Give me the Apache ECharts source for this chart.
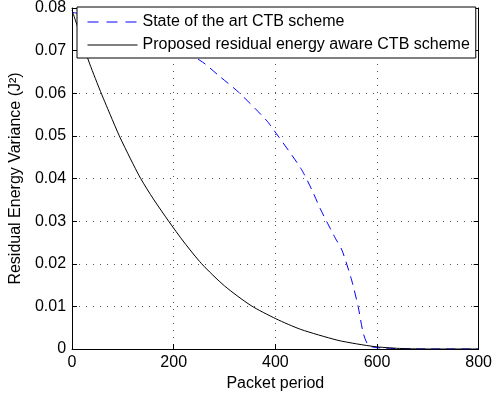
<!DOCTYPE html>
<html>
<head>
<meta charset="utf-8">
<script src="https://cdn.jsdelivr.net/npm/echarts@6/dist/echarts.min.js"></script>
<style>
html, body { margin: 0; padding: 0; background: #fff; }
#chart { width: 495px; height: 398px; }
</style>
</head>
<body>
<div id="chart"></div>
<script>
// 曲线数据
var stateX = [0, 60, 120, 180, 252, 290, 328, 382, 404, 450, 472, 488, 501, 518, 531, 550, 563, 573, 583, 600, 700, 800];
var stateY = [0.079, 0.0775, 0.075, 0.0718, 0.0677, 0.064, 0.0602, 0.0537, 0.0502, 0.0424, 0.0373, 0.033, 0.0299, 0.026, 0.0232, 0.0162, 0.0099, 0.0037, 0.0009, 0.0003, 0, 0];

var propX = [0, 16, 32, 54, 75, 93, 115, 135, 160, 190, 220, 255, 300, 352, 401, 450, 521, 560, 600, 650, 700, 800];
var propY = [0.0795, 0.0737, 0.0678, 0.061, 0.055, 0.050, 0.0446, 0.040, 0.0352, 0.030, 0.0251, 0.020, 0.0148, 0.0102, 0.0071, 0.0046, 0.0021, 0.0012, 0.0005, 0.0001, 0, 0];

var seriesNames = ['State of the art CTB scheme', 'Proposed residual energy aware CTB scheme'];
var xTicks = [0, 200, 400, 600, 800];
var yTicks = [0, 0.01, 0.02, 0.03, 0.04, 0.05, 0.06, 0.07, 0.08];

function pairs(xs, ys) {
	var out = [];
	for (var i = 0; i < xs.length; i++) {
		out.push([xs[i], ys[i]]);
	}
	return out;
}

var font = 'Liberation Sans, Arial, Helvetica, sans-serif';
var gridDot = {
	show : true,
	lineStyle : {
		color : '#555',
		type : [1, 6],
		width : 1
	}
};

// 上边和右边的框线（只画刻度，不画标签）
function boxAxis(pos, isX) {
	return {
		type : 'value',
		position : pos,
		min : isX ? xTicks[0] : yTicks[0],
		max : isX ? xTicks[xTicks.length - 1] : yTicks[yTicks.length - 1],
		interval : isX ? 200 : 0.01,
		axisLine : { show : true, onZero : false, lineStyle : { color : '#000', width : 1 } },
		axisTick : { show : true, inside : true, length : 5, lineStyle : { color : '#000' } },
		axisLabel : { show : false },
		splitLine : { show : false }
	};
}

var option = {
	animation : false,
	backgroundColor : '#fff',
	grid : {
		left : 72,
		right : 12,
		top : 8,
		bottom : 49,
		containLabel : false
	},
	legend : {
		orient : 'vertical',
		left : 77,
		top : 7,
		padding : [7, 6, 5, 10],
		itemWidth : 50,
		itemHeight : 16,
		itemGap : 7,
		backgroundColor : '#fff',
		borderColor : '#000',
		borderWidth : 1,
		z : 10,
		itemStyle : { opacity : 0, borderWidth : 0 },
		lineStyle : { width : 1 },
		textStyle : { fontFamily : font, fontSize : 16, color : '#000' },
		data : [
			{ name : seriesNames[0], lineStyle : { type : [11, 8] } },
			{ name : seriesNames[1] }
		]
	},
	xAxis : [{
		type : 'value',
		min : 0,
		max : 800,
		interval : 200,
		name : 'Packet period',
		nameLocation : 'middle',
		nameGap : 25,
		nameTextStyle : { fontFamily : font, fontSize : 16, color : '#000' },
		axisLine : { show : true, onZero : false, lineStyle : { color : '#000', width : 1 } },
		axisTick : { show : true, inside : true, length : 5, lineStyle : { color : '#000' } },
		axisLabel : { fontFamily : font, fontSize : 16, color : '#000', margin : 6, showMaxLabel : true },
		splitLine : gridDot
	}, boxAxis('top', true)],
	yAxis : [{
		type : 'value',
		min : 0,
		max : 0.08,
		interval : 0.01,
		name : 'Residual Energy Variance (J\u00B2)',
		nameLocation : 'middle',
		nameGap : 43,
		nameTextStyle : { fontFamily : font, fontSize : 16, color : '#000' },
		axisLine : { show : true, onZero : false, lineStyle : { color : '#000', width : 1 } },
		axisTick : { show : true, inside : true, length : 5, lineStyle : { color : '#000' } },
		axisLabel : { fontFamily : font, fontSize : 16, color : '#000', margin : 6, showMaxLabel : true },
		splitLine : gridDot
	}, boxAxis('right', false)],
	series : [{
		name : seriesNames[0],
		type : 'line',
		data : pairs(stateX, stateY),
		symbol : 'none',
		smooth : 0.25,
		lineStyle : { color : '#0000ff', width : 1, type : [9, 6] },
		itemStyle : { color : '#0000ff' }
	}, {
		name : seriesNames[1],
		type : 'line',
		data : pairs(propX, propY),
		symbol : 'none',
		smooth : 0.25,
		lineStyle : { color : '#000', width : 1 },
		itemStyle : { color : '#000' }
	}]
};

var myChart = echarts.init(document.getElementById('chart'));
myChart.setOption(option, true);
</script>
</body>
</html>
